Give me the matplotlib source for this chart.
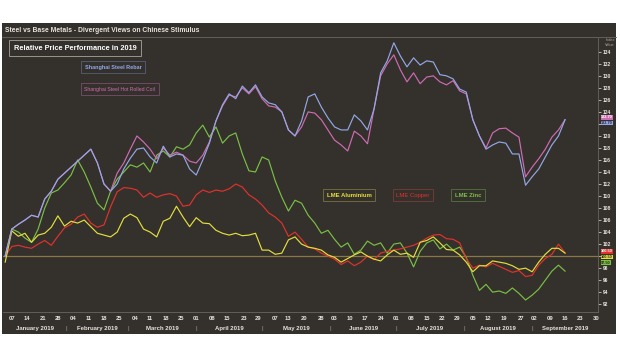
import pandas as pd
import matplotlib
matplotlib.use('Agg')
import matplotlib.pyplot as plt
import matplotlib.dates as mdates
import matplotlib.transforms as mtrans
from matplotlib.patches import Rectangle

# ==========================================
# DATA  (relative performance, index = 100 at start of 2019)
# ==========================================
dates = pd.date_range('2019-01-04', periods=86, freq='3D')

rebar = [100, 104.5, 105.3, 106, 106.8, 106.5, 109.5, 110.8, 112.8, 113.8,
         114.8, 115.8, 116.8, 117.8, 115.5, 112, 110.8, 112, 114.5, 116.3,
         117.8, 118, 116.5, 115.5, 118.3, 116.5, 117, 116.8, 114.5, 113.5,
         116, 118.8, 122.5, 125.2, 127, 126.2, 128.3, 127.2, 128.5, 126.5,
         125.5, 125.2, 124, 121, 120, 122.5, 126.5, 127, 124.8, 123,
         121.5, 121, 121, 123.5, 122.5, 121, 124.5, 130.5, 132.5, 135.5,
         133.3, 131.5, 133, 131.8, 132.5, 132.3, 130.2, 130, 129.5, 127.8,
         127.3, 122.7, 120, 117.8, 118.5, 119, 118.8, 117, 117, 111.8,
         113.2, 114.5, 116.5, 118.5, 120, 122.7]

hrc = [100, 104.5, 105.3, 106, 106.8, 106.5, 109.5, 110.8, 112.8, 113.8,
       114.8, 115.8, 116.8, 117.8, 115.5, 112, 110.8, 113.8, 115.5, 117.8,
       120, 119, 117.8, 116.2, 118, 116.8, 117.3, 116.8, 115.8, 115.5,
       116.8, 119, 122.5, 125, 126.8, 126.5, 128, 127, 128.2, 126.2,
       125, 124.8, 124, 121, 120, 121.5, 124, 123.8, 122.7, 121,
       119.3, 118.5, 117.5, 120.8, 120, 118.7, 124.5, 130, 132, 133.5,
       131, 129, 130.5, 128.7, 129.8, 130, 129, 128.5, 129.2, 127.5,
       127, 122.7, 120, 118, 120.5, 121.2, 121.3, 120.5, 119.8, 113.2,
       114.8, 116.2, 117.8, 119.8, 121, 122.7]

aluminium = [99, 104.2, 103.3, 103.8, 102.3, 103.5, 103.8, 104.8, 106.7, 105,
             105.8, 105.5, 106, 104.9, 103.8, 103.5, 103.2, 104, 106.3, 107,
             106.4, 104.5, 104, 103.2, 105.8, 106.3, 108.3, 106.5, 104.9, 106.4,
             105.5, 105.4, 104.3, 103.8, 103.5, 103.8, 103.4, 103.5, 103.8, 101,
             101, 100.3, 100.5, 102.7, 103.2, 102, 101.5, 101.3, 101, 100.2,
             99.8, 99, 99.6, 100.2, 100.7, 100, 99.5, 99.2, 100.2, 101,
             100.3, 100.5, 99.8, 102.3, 102.6, 103.2, 102.2, 101.1, 101, 100.2,
             99, 97.4, 98.4, 98.4, 99.2, 99, 98.8, 98.4, 97.8, 98,
             97.4, 99, 100.3, 101.3, 101.3, 100.5]

copper = [100, 101.6, 101.8, 101.5, 101.3, 102, 102.6, 101.8, 103.3, 104.7,
          105.3, 106.5, 107, 105.5, 104.8, 105.2, 108.2, 110.7, 111.4, 111.3,
          111, 109.8, 110.5, 109.8, 110.2, 110.4, 110, 108.3, 108.5, 110.2,
          111, 110.6, 111, 110.8, 111.2, 112, 111.5, 110.2, 109.5, 108.5,
          107.2, 106.5, 105.5, 103.3, 104, 102.8, 101.5, 101.2, 100.5, 100,
          99.5, 98.6, 99.2, 98.4, 99, 100, 99.4, 100.5, 100.8, 101,
          101.2, 101.5, 101.8, 102.3, 103, 103.5, 103.6, 102.9, 102.8, 102.2,
          99.6, 98, 98.5, 98.2, 98.8, 98.3, 97.8, 97.3, 97.6, 96.6,
          96.8, 98.5, 99.6, 100.3, 102, 100.5]

zinc = [100, 104.5, 104, 103, 102.3, 104.5, 108, 110.5, 111, 112.2,
        113.5, 116, 114, 111.5, 108.8, 107.7, 110.8, 112.8, 114, 115.2,
        114.8, 115.5, 114, 116.8, 117.5, 116.5, 118.2, 117.8, 118.5, 120.5,
        121.8, 119.8, 121.5, 118.8, 120, 120.5, 117, 114.2, 114, 116.5,
        116, 112.5, 109.8, 107.5, 109.3, 108.8, 106.8, 105.5, 103.8, 104.3,
        102.8, 101.5, 102.2, 100.3, 101, 102.5, 101.8, 102.2, 100.5, 102,
        102.2, 100.5, 98.2, 100.8, 102.2, 102.7, 101.2, 102, 101, 101.5,
        99.8, 96.8, 94.3, 95.3, 94, 94.2, 93.8, 94.7, 93.8, 92.7,
        93.5, 94.5, 96, 97.5, 98.5, 97.5]

series_names = ['Shanghai Steel Rebar', 'Shanghai Steel Hot Rolled Coil',
                'LME Aluminium', 'LME Copper', 'LME Zinc']

tick_days = ['2019-01-07', '2019-01-14', '2019-01-21', '2019-01-28',
             '2019-02-04', '2019-02-11', '2019-02-18', '2019-02-25',
             '2019-03-04', '2019-03-11', '2019-03-18', '2019-03-25',
             '2019-04-01', '2019-04-08', '2019-04-15', '2019-04-23', '2019-04-29',
             '2019-05-07', '2019-05-13', '2019-05-20', '2019-05-28',
             '2019-06-03', '2019-06-10', '2019-06-17', '2019-06-24',
             '2019-07-01', '2019-07-08', '2019-07-15', '2019-07-22', '2019-07-29',
             '2019-08-05', '2019-08-12', '2019-08-19', '2019-08-27',
             '2019-09-02', '2019-09-09', '2019-09-16', '2019-09-23', '2019-09-30']

month_starts = ['2019-01-01', '2019-02-01', '2019-03-01', '2019-04-01', '2019-05-01',
                '2019-06-01', '2019-07-01', '2019-08-01', '2019-09-01', '2019-10-01']
month_labels = ['January 2019', 'February 2019', 'March 2019', 'April 2019',
                'May 2019', 'June 2019', 'July 2019', 'August 2019', 'September 2019']

y_ticks = list(range(92, 136, 2))
hidden_ticks = [100, 122]   # covered by the last-value tags in the original

# ==========================================
# STYLE
# ==========================================
W, H = 620, 355
bg = '#34302c'
grid_col = '#6b655e'
txt_col = '#e8e4dc'
colors = {
    'rebar': '#93a8e6',
    'hrc': '#cf6cb2',
    'alu': '#e4df3c',
    'cu': '#e2322c',
    'zn': '#7ac044',
}
plt.rcParams['font.family'] = ['Liberation Sans', 'DejaVu Sans']


def fx(px):
    return px / W


def fy(py):
    return 1 - py / H


fig = plt.figure(figsize=(W / 100, H / 100), dpi=100, facecolor='white')

# dark panel behind everything
fig.patches.append(Rectangle((fx(2), fy(334)), fx(616) - fx(2), fy(23) - fy(334),
                             transform=fig.transFigure, facecolor=bg,
                             edgecolor='none', zorder=-10))
fig.text(fx(5), fy(30), 'Steel vs Base Metals - Divergent Views on Chinese Stimulus',
         color=txt_col, fontsize=4.9, fontweight='bold', va='center', ha='left')
fig.add_artist(plt.Line2D([fx(2), fx(616)], [fy(37), fy(37)], color=grid_col, lw=0.6))

ax = fig.add_axes([fx(3), fy(312), fx(598) - fx(3), fy(38) - fy(312)])
ax.set_facecolor(bg)
ax.set_zorder(1)

x0 = mdates.date2num(pd.Timestamp('2019-01-03'))
x1 = mdates.date2num(pd.Timestamp('2019-10-01'))

ax.axhline(100, color='#8a7747', lw=0.9, zorder=1)

ax.plot(dates, zinc, color=colors['zn'], lw=0.85, zorder=2)
ax.plot(dates, copper, color=colors['cu'], lw=0.85, zorder=3)
ax.plot(dates, aluminium, color=colors['alu'], lw=0.85, zorder=4)
ax.plot(dates, hrc, color=colors['hrc'], lw=0.85, zorder=5)
ax.plot(dates, rebar, color=colors['rebar'], lw=0.85, zorder=6)

ax.set_xlim(x0, x1)
ax.set_ylim(90.7, 136.3)

# axes / ticks
for s in ['top', 'left']:
    ax.spines[s].set_visible(False)
ax.spines['right'].set_color(grid_col)
ax.spines['bottom'].set_color(grid_col)
ax.spines['right'].set_linewidth(0.6)
ax.spines['bottom'].set_linewidth(0.6)

ax.yaxis.tick_right()
ax.set_yticks(y_ticks)
ax.set_yticklabels(['' if v in hidden_ticks else str(v) for v in y_ticks])
ax.tick_params(axis='y', colors=txt_col, labelsize=3.6, length=2, width=0.5, pad=1.5)

tick_dt = pd.to_datetime(tick_days)
ax.set_xticks(mdates.date2num(tick_dt))
ax.set_xticklabels(list(tick_dt.strftime('%d')))
ax.tick_params(axis='x', colors=txt_col, labelsize=4.2, length=0, pad=3)
for lab in ax.get_xticklabels() + ax.get_yticklabels():
    lab.set_fontweight('bold')

# month labels under the day labels
trans = mtrans.blended_transform_factory(ax.transData, ax.transAxes)
ms = mdates.date2num(pd.to_datetime(month_starts))
for i, name in enumerate(month_labels):
    a = max(ms[i], x0)
    b = min(ms[i + 1], x1)
    ax.text((a + b) / 2, -0.05, name, transform=trans, ha='center', va='top',
            color=txt_col, fontsize=4.3, fontweight='bold', clip_on=False)
    if i > 0:
        ax.text(ms[i], -0.05, '|', transform=trans, ha='center', va='top',
                color='#9a948c', fontsize=4.5, clip_on=False)

ax.text(1.012, 1.0, 'Index\nValue', transform=ax.transAxes, ha='left', va='top',
        color='#a8a29a', fontsize=2.8, clip_on=False)

# last-value tags on the right axis (nudged apart so they don't collide)
ytrans = mtrans.blended_transform_factory(ax.transAxes, ax.transData)
last_vals = [hrc[-1], rebar[-1], copper[-1], aluminium[-1], zinc[-1]]
tag_shift = [0.4, -0.55, 0.3, -0.65, 1.4]
tag_face = [colors['hrc'], colors['rebar'], colors['cu'], colors['alu'], colors['zn']]
tag_text = ['white', '#1c2040', 'white', '#2a2a10', '#1c2a10']
for v, d, fc, tc in zip(last_vals, tag_shift, tag_face, tag_text):
    ax.text(1.005, v + d, f'{v:.2f}', transform=ytrans, ha='left', va='center',
            fontsize=2.8, fontweight='bold', color=tc, clip_on=False, zorder=10,
            bbox=dict(boxstyle='square,pad=0.08', facecolor=fc, edgecolor='none'))

# legend-style boxes
box_specs = [
    ('Relative Price Performance in 2019', 75, 48, 'white', '#9a958d', 5.3, 'bold'),
    (series_names[0], 113, 67, colors['rebar'], '#55586e', 4.0, 'bold'),
    (series_names[1], 120, 89, colors['hrc'], '#6e4a62', 3.7, 'normal'),
    (series_names[2], 349, 195, colors['alu'], '#6e6a3a', 4.3, 'bold'),
    (series_names[3], 413, 195, colors['cu'], '#6e3a36', 4.3, 'normal'),
    (series_names[4], 468, 195, colors['zn'], '#4e6a3a', 4.3, 'bold'),
]
for label, px, py, c, ec, fs, fw in box_specs:
    fig.text(fx(px), fy(py), label, color=c, fontsize=fs, fontweight=fw,
             ha='center', va='center', zorder=5,
             bbox=dict(boxstyle='square,pad=0.6', facecolor=bg, edgecolor=ec, lw=0.7))

fig.savefig('out.png', dpi=100, facecolor='white')
